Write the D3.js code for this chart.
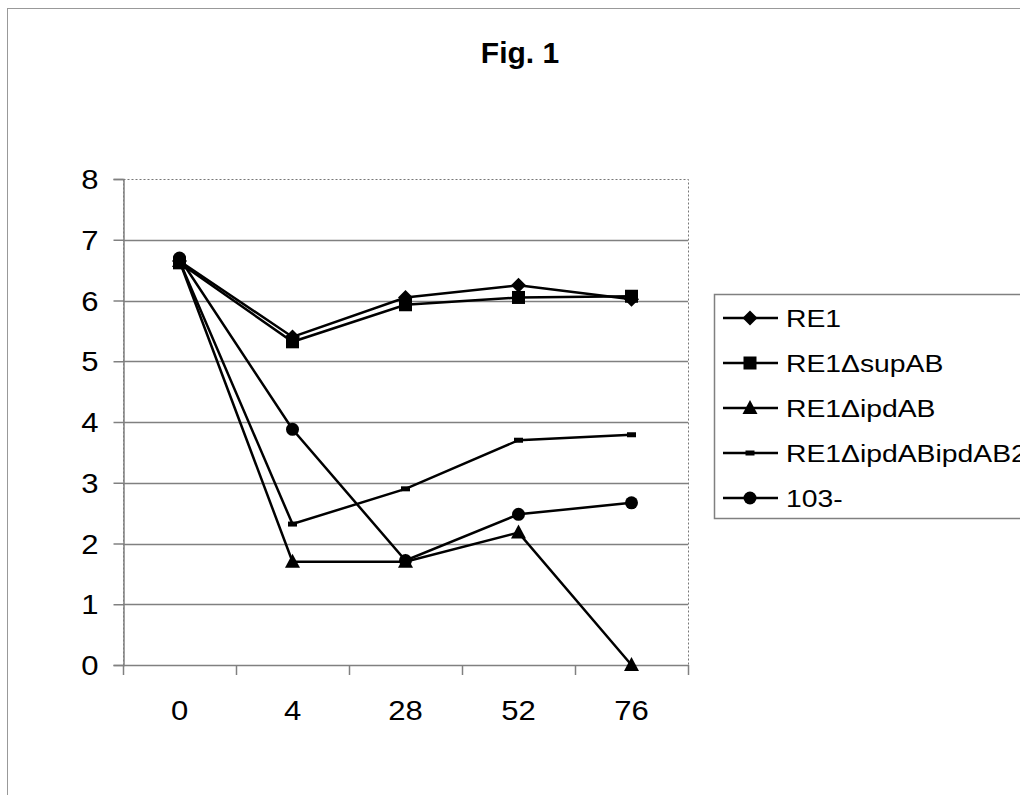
<!DOCTYPE html>
<html>
<head>
<meta charset="utf-8">
<script src="https://cdn.jsdelivr.net/npm/d3@7"></script>
<style>
  body { margin: 0; background: #fff; }
  svg text { font-family: "Liberation Sans", Arial, sans-serif; fill: #000; }
</style>
</head>
<body>
<div id="chart_div"></div>
<script>
// data
var hours = ['0', '4', '28', '52', '76'];
var seriesNames = ['RE1', 'RE1\u0394supAB', 'RE1\u0394ipdAB', 'RE1\u0394ipdABipdAB2', '103-'];
var seriesMarkers = ['diamond', 'square', 'triangle', 'dash', 'circle'];
var re1 = [6.65, 5.4, 6.05, 6.25, 6.02];
var supAB = [6.62, 5.32, 5.93, 6.05, 6.07];
var ipdAB = [6.65, 1.7, 1.7, 2.18, 0.0];
var ipdAB2 = [6.65, 2.32, 2.9, 3.7, 3.79];
var c103 = [6.7, 3.88, 1.72, 2.48, 2.67];
var yTicks = [0, 1, 2, 3, 4, 5, 6, 7, 8];

var allSeries = [re1, supAB, ipdAB, ipdAB2, c103];

var svg_width = 1020,
  svg_height = 795;

// the scan is a bit stretched sideways, so text gets a small x-scale
var textStretch = 1.15;

var svg = d3.select('#chart_div')
  .append('svg')
  .attr('width', svg_width)
  .attr('height', svg_height);

// outer frame of the figure
svg.append('rect')
  .attr('x', 7.5)
  .attr('y', 8.5)
  .attr('width', 1100)
  .attr('height', 1000)
  .attr('fill', 'none')
  .attr('stroke', '#999');

// title
svg.append('text')
  .attr('transform', 'translate(520,63)')
  .attr('text-anchor', 'middle')
  .attr('style', 'font-size: 30px; font-weight: bold')
  .text('Fig. 1');

// plot area
var plotLeft = 123, plotRight = 688, plotTop = 179, plotBottom = 665;

var x = d3.scaleBand()
  .domain(hours)
  .range([plotLeft, plotRight]);

var y = d3.scaleLinear()
  .domain([0, 8])
  .range([plotBottom, plotTop]);

function xc(d) { return x(d) + x.bandwidth() / 2; }

// gridlines
svg.append('g')
  .selectAll('line')
  .data(yTicks.filter(function (d) { return d > 0 && d < 8; }))
  .enter().append('line')
  .attr('x1', plotLeft)
  .attr('x2', plotRight)
  .attr('y1', function (d) { return Math.round(y(d)) + 0.5; })
  .attr('y2', function (d) { return Math.round(y(d)) + 0.5; })
  .attr('stroke', '#808080')
  .attr('stroke-width', 1.5);

// dotted plot border
svg.append('rect')
  .attr('x', plotLeft + 0.5)
  .attr('y', plotTop + 0.5)
  .attr('width', plotRight - plotLeft)
  .attr('height', plotBottom - plotTop)
  .attr('fill', 'none')
  .attr('stroke', '#777')
  .attr('stroke-dasharray', '2,2');

// y axis
var yAxis = d3.axisLeft(y)
  .tickValues(yTicks)
  .tickSize(10)
  .tickPadding(14)
  .tickFormat(d3.format('d'));

var yg = svg.append('g')
  .attr('transform', 'translate(' + (plotLeft + 0.5) + ',0)')
  .call(yAxis);
yg.selectAll('.domain').attr('stroke', '#808080').attr('stroke-width', 1.5);
yg.selectAll('.tick line').attr('stroke', '#808080').attr('stroke-width', 1.5);
yg.selectAll('.tick text')
  .attr('x', 0)
  .attr('transform', 'translate(-25,0) scale(' + textStretch + ',1)')
  .attr('style', 'font-size: 27px; font-family: "Liberation Sans", Arial, sans-serif')
  .attr('dy', '0.36em');

// x axis: ticks at category boundaries, labels at centres
var xg = svg.append('g');
xg.append('line')
  .attr('x1', plotLeft)
  .attr('x2', plotRight + 1)
  .attr('y1', plotBottom + 0.5)
  .attr('y2', plotBottom + 0.5)
  .attr('stroke', '#808080')
  .attr('stroke-width', 1.5);
var bounds = hours.map(function (d) { return x(d); }).concat([plotRight]);
xg.selectAll('.xtick')
  .data(bounds)
  .enter().append('line')
  .attr('class', 'xtick')
  .attr('x1', function (d) { return Math.round(d) + 0.5; })
  .attr('x2', function (d) { return Math.round(d) + 0.5; })
  .attr('y1', plotBottom)
  .attr('y2', plotBottom + 10)
  .attr('stroke', '#808080')
  .attr('stroke-width', 1.5);
xg.selectAll('.xlabel')
  .data(hours)
  .enter().append('text')
  .attr('class', 'xlabel')
  .attr('transform', function (d) { return 'translate(' + xc(d) + ',720) scale(' + textStretch + ',1)'; })
  .attr('text-anchor', 'middle')
  .attr('style', 'font-size: 27px')
  .text(function (d) { return d; });

// markers
function drawMarker(g, type, cx, cy) {
  if (type === 'diamond') {
    g.append('path')
      .attr('d', 'M' + cx + ',' + (cy - 7.5) + 'L' + (cx + 7.5) + ',' + cy + 'L' + cx + ',' + (cy + 7.5) + 'L' + (cx - 7.5) + ',' + cy + 'Z')
      .attr('fill', '#000');
  } else if (type === 'square') {
    g.append('rect')
      .attr('x', cx - 6.5).attr('y', cy - 6.5)
      .attr('width', 13).attr('height', 13)
      .attr('fill', '#000');
  } else if (type === 'triangle') {
    g.append('path')
      .attr('d', 'M' + cx + ',' + (cy - 8) + 'L' + (cx + 7.5) + ',' + (cy + 6) + 'L' + (cx - 7.5) + ',' + (cy + 6) + 'Z')
      .attr('fill', '#000');
  } else if (type === 'dash') {
    g.append('rect')
      .attr('x', cx - 4.5).attr('y', cy - 2.5)
      .attr('width', 9).attr('height', 5)
      .attr('fill', '#000');
  } else if (type === 'circle') {
    g.append('circle')
      .attr('cx', cx).attr('cy', cy).attr('r', 6.5)
      .attr('fill', '#000');
  }
}

var line = d3.line()
  .x(function (d, i) { return xc(hours[i]); })
  .y(function (d) { return y(d); });

var seriesLayer = svg.append('g');
allSeries.forEach(function (vals, s) {
  var g = seriesLayer.append('g');
  g.append('path')
    .datum(vals)
    .attr('d', line)
    .attr('fill', 'none')
    .attr('stroke', '#000')
    .attr('stroke-width', 2.5);
  vals.forEach(function (v, i) {
    drawMarker(g, seriesMarkers[s], xc(hours[i]), y(v));
  });
});

// legend
var legend = svg.append('g').classed('legend', true);
legend.append('rect')
  .attr('x', 714.5)
  .attr('y', 294.5)
  .attr('width', 400)
  .attr('height', 224)
  .attr('fill', '#fff')
  .attr('stroke', '#808080')
  .attr('stroke-width', 1.5);
seriesNames.forEach(function (name, i) {
  var ly = 318 + 45 * i;
  legend.append('line')
    .attr('x1', 723).attr('x2', 778)
    .attr('y1', ly).attr('y2', ly)
    .attr('stroke', '#000')
    .attr('stroke-width', 2.5);
  drawMarker(legend, seriesMarkers[i], 750, ly);
  legend.append('text')
    .attr('transform', 'translate(786,' + (ly + 8.5) + ') scale(1.18,1)')
    .attr('style', 'font-size: 24px')
    .text(name);
});
</script>
</body>
</html>
